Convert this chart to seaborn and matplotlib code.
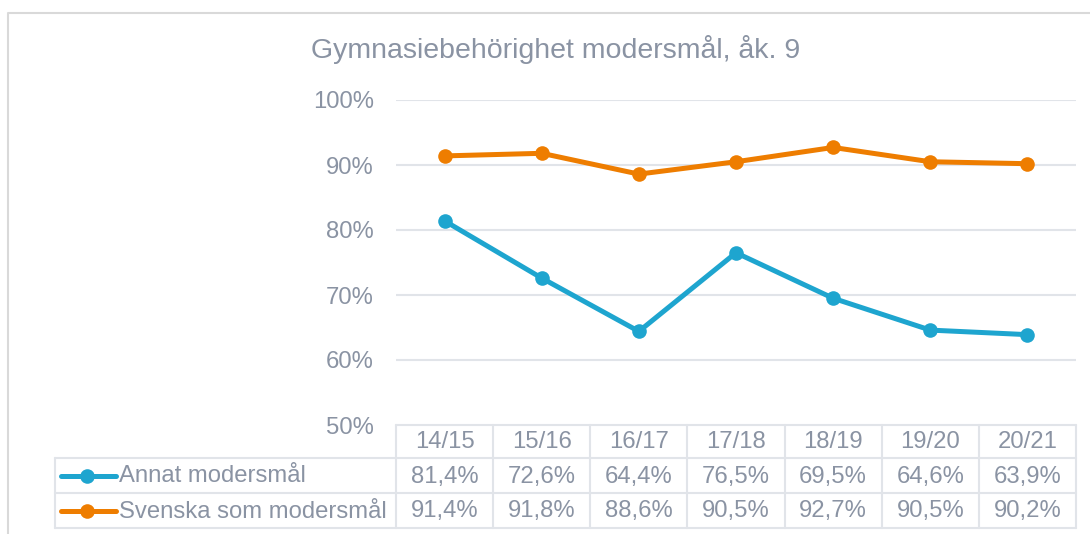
import matplotlib
matplotlib.use("Agg")
import matplotlib.pyplot as plt
import seaborn as sns
import pandas as pd
import numpy as np

# Data
years = ["14/15", "15/16", "16/17", "17/18", "18/19", "19/20", "20/21"]
annat = [81.4, 72.6, 64.4, 76.5, 69.5, 64.6, 63.9]
svenska = [91.4, 91.8, 88.6, 90.5, 92.7, 90.5, 90.2]
series_names = ["Annat modersmål", "Svenska som modersmål"]
series_colors = ["#1ea5cf", "#ee7d00"]
title = "Gymnasiebehörighet modersmål, åk. 9"
yticks = [50, 60, 70, 80, 90, 100]

sns.set_theme(style="white")
plt.rcParams["font.family"] = ["Liberation Sans", "DejaVu Sans"]

TXT = "#8a93a3"
GRID = "#e1e4e9"
FS = 17.2
W, H = 1090, 534
fig = plt.figure(figsize=(W / 100, H / 100), dpi=100)

# plot area in pixel coordinates
px_l, px_r, px_t, px_b = 396, 1076, 100, 425
ax = fig.add_axes([px_l / W, 1 - px_b / H, (px_r - px_l) / W, (px_b - px_t) / H])

df = pd.DataFrame({
    "idx": list(range(len(years))) * 2,
    "value": annat + svenska,
    "serie": [series_names[0]] * len(years) + [series_names[1]] * len(years),
})
sns.lineplot(data=df, x="idx", y="value", hue="serie", palette=series_colors,
             marker="o", markersize=10.5, markeredgewidth=0, linewidth=3.6,
             legend=False, ax=ax)

ax.set_xlim(-0.5, len(years) - 0.5)
ax.set_ylim(50, 100)
ax.set_yticks(yticks)
ax.set_yticklabels([f"{v}%" for v in yticks], color=TXT, fontsize=FS)
ax.set_xticks([])
ax.set_xlabel("")
ax.set_ylabel("")
ax.tick_params(axis="y", length=0, pad=16)
for s in ax.spines.values():
    s.set_visible(False)
for v in yticks[1:]:
    ax.axhline(v, color=GRID, lw=1.5, zorder=0)

# overlay in pixel coordinates for title, table and border
ov = fig.add_axes([0, 0, 1, 1], facecolor="none")
ov.set_xlim(0, W)
ov.set_ylim(H, 0)
ov.axis("off")

ov.text(556, 50, title, ha="center", va="center", color=TXT, fontsize=20.5)

# outer chart border
ov.plot([8, 8, W + 5], [H + 5, 13, 13], color="#d9d9d9", lw=1.5)

# data table
col_w = (px_r - px_l) / len(years)
row_y = [425, 458, 493, 528]
lab_l = 55
for k in range(len(years) + 1):
    x = px_l + k * col_w
    ov.plot([x, x], [row_y[0], row_y[-1]], color=GRID, lw=1.5)
ov.plot([lab_l, lab_l], [row_y[1], row_y[-1]], color=GRID, lw=1.5)
ov.plot([px_l, px_r], [row_y[0], row_y[0]], color=GRID, lw=1.5)
for y in row_y[1:]:
    ov.plot([lab_l, px_r], [y, y], color=GRID, lw=1.5)

for i, yr in enumerate(years):
    cx = px_l + (i + 0.5) * col_w
    ov.text(cx, (row_y[0] + row_y[1]) / 2 + 1, yr, ha="center", va="center",
            color=TXT, fontsize=FS)
    for r, vals in enumerate([annat, svenska]):
        ov.text(cx, (row_y[r + 1] + row_y[r + 2]) / 2 + 1,
                f"{vals[i]:.1f}%".replace(".", ","), ha="center", va="center",
                color=TXT, fontsize=FS)

for r, (name, col) in enumerate(zip(series_names, series_colors)):
    yc = (row_y[r + 1] + row_y[r + 2]) / 2
    ov.plot([61, 116], [yc, yc], color=col, lw=3.6, solid_capstyle="round")
    ov.plot([87], [yc], marker="o", color=col, markersize=10.5, markeredgewidth=0)
    ov.text(119, yc + 1, name, ha="left", va="center", color=TXT, fontsize=FS)

fig.savefig("out.png", dpi=100)
